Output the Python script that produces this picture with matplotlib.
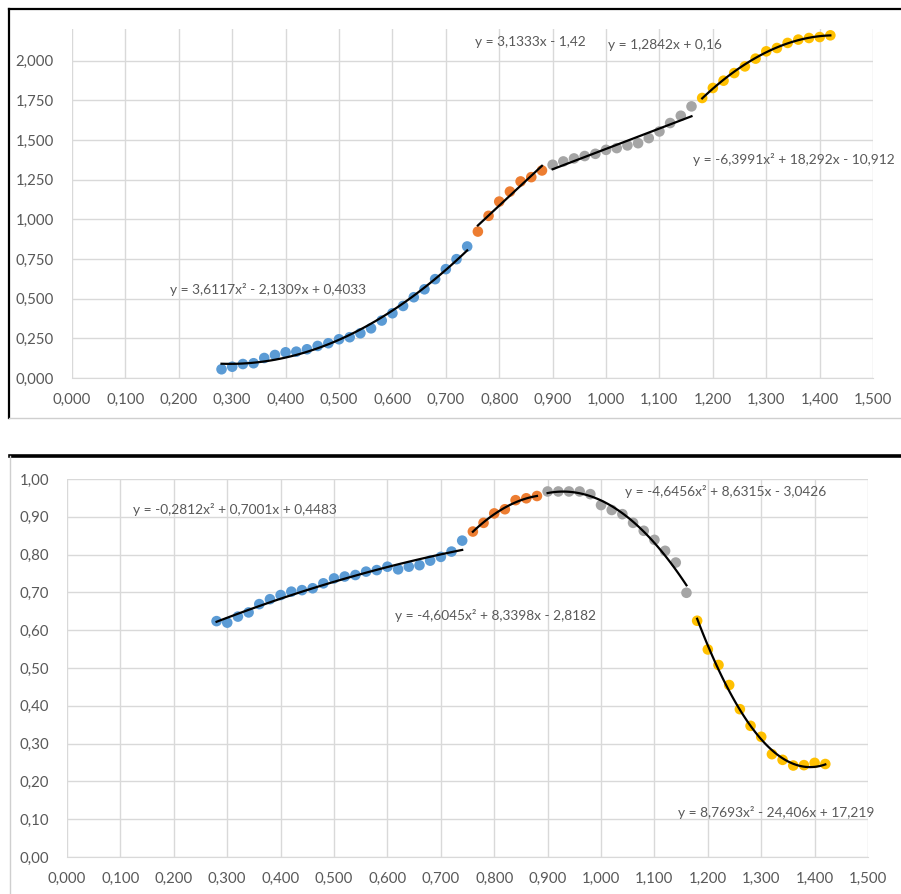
import numpy as np
import matplotlib
matplotlib.use("Agg")
import matplotlib.pyplot as plt
from matplotlib.lines import Line2D
from matplotlib.ticker import FuncFormatter

plt.rcParams['font.family'] = ['Lato', 'DejaVu Sans']

# x values per segment (same for both charts)
x_blue = [0.28, 0.30, 0.32, 0.34, 0.36, 0.38, 0.40, 0.42, 0.44, 0.46, 0.48, 0.50,
          0.52, 0.54, 0.56, 0.58, 0.60, 0.62, 0.64, 0.66, 0.68, 0.70, 0.72, 0.74]
x_orange = [0.76, 0.78, 0.80, 0.82, 0.84, 0.86, 0.88]
x_gray = [0.90, 0.92, 0.94, 0.96, 0.98, 1.00, 1.02, 1.04, 1.06, 1.08, 1.10, 1.12, 1.14, 1.16]
x_yellow = [1.18, 1.20, 1.22, 1.24, 1.26, 1.28, 1.30, 1.32, 1.34, 1.36, 1.38, 1.40, 1.42]

# top chart
top_blue = [0.055, 0.071, 0.088, 0.093, 0.126, 0.145, 0.162, 0.166, 0.181, 0.202, 0.219, 0.244,
            0.257, 0.282, 0.313, 0.362, 0.408, 0.454, 0.509, 0.559, 0.623, 0.686, 0.749, 0.829]
top_orange = [0.923, 1.022, 1.112, 1.175, 1.239, 1.266, 1.308]
top_gray = [1.344, 1.365, 1.384, 1.399, 1.413, 1.438, 1.449, 1.466, 1.480, 1.512, 1.554,
            1.607, 1.653, 1.712]
top_yellow = [1.765, 1.828, 1.874, 1.922, 1.964, 2.013, 2.059, 2.080, 2.112, 2.133, 2.143,
              2.149, 2.160]
top_coefs = [[3.6117, -2.1309, 0.4033], [3.1333, -1.42], [1.2842, 0.16],
             [-6.3991, 18.292, -10.912]]
top_labels = ["y = 3,6117x² - 2,1309x + 0,4033", "y = 3,1333x - 1,42",
              "y = 1,2842x + 0,16", "y = -6,3991x² + 18,292x - 10,912"]
top_label_pos = [(0.184, 0.555), (0.755, 2.12), (1.004, 2.10), (1.163, 1.375)]

# bottom chart
bot_blue = [0.624, 0.620, 0.636, 0.647, 0.669, 0.682, 0.693, 0.702, 0.706, 0.711, 0.724, 0.737,
            0.742, 0.746, 0.755, 0.759, 0.768, 0.761, 0.768, 0.772, 0.784, 0.794, 0.808, 0.837]
bot_orange = [0.861, 0.884, 0.909, 0.920, 0.944, 0.949, 0.955]
bot_gray = [0.967, 0.967, 0.967, 0.967, 0.960, 0.931, 0.918, 0.907, 0.884, 0.863, 0.839,
            0.810, 0.779, 0.699]
bot_yellow = [0.625, 0.549, 0.508, 0.455, 0.391, 0.347, 0.318, 0.272, 0.257, 0.242, 0.243,
              0.249, 0.246]
bot_coefs = [[-0.2812, 0.7001, 0.4483], [-4.6045, 8.3398, -2.8182],
             [-4.6456, 8.6315, -3.0426], [8.7693, -24.406, 17.219]]
bot_labels = ["y = -0,2812x² + 0,7001x + 0,4483", "y = -4,6045x² + 8,3398x - 2,8182",
              "y = -4,6456x² + 8,6315x - 3,0426", "y = 8,7693x² - 24,406x + 17,219"]
bot_label_pos = [(0.124, 0.918), (0.614, 0.640), (1.045, 0.966), (1.144, 0.119)]

colors = ['#5B9BD5', '#ED7D31', '#A5A5A5', '#FFC000']
xs = [x_blue, x_orange, x_gray, x_yellow]
txt_col = '#595959'
grid_col = '#D9D9D9'


def comma_fmt(nd):
    return FuncFormatter(lambda v, p: f"{v:.{nd}f}".replace('.', ','))


def draw(ax, ys, coefs, labels, label_pos, ymax, ystep, ynd):
    for x, y, c, k in zip(xs, ys, colors, coefs):
        ax.scatter(x, y, s=58, color=c, edgecolors='none', zorder=3)
        xx = np.linspace(x[0], x[-1], 60)
        ax.plot(xx, np.polyval(k, xx), color='black', lw=1.6, zorder=4)
    for t, (lx, ly) in zip(labels, label_pos):
        ax.text(lx, ly, t, fontsize=9.9, color=txt_col, ha='left', va='center',
                clip_on=False, zorder=5)
    ax.set_xlim(0, 1.5)
    ax.set_ylim(0, ymax)
    ax.set_xticks(np.arange(0, 1.5001, 0.1))
    ax.set_yticks(np.arange(0, ymax + 1e-6, ystep))
    ax.xaxis.set_major_formatter(comma_fmt(3))
    ax.yaxis.set_major_formatter(comma_fmt(ynd))
    ax.grid(True, color=grid_col, lw=1)
    ax.set_axisbelow(True)
    for s in ['top', 'right', 'left']:
        ax.spines[s].set_visible(False)
    ax.spines['bottom'].set_color(grid_col)
    ax.tick_params(length=0, labelsize=10.8, colors=txt_col)
    ax.tick_params(axis='x', pad=11)
    ax.tick_params(axis='y', pad=13)


fig = plt.figure(figsize=(9.01, 8.94), dpi=100)
ax1 = fig.add_axes([0.0799, 0.5772, 0.8891, 0.3904])
draw(ax1, [top_blue, top_orange, top_gray, top_yellow], top_coefs, top_labels,
     top_label_pos, 2.2, 0.25, 3)
ax1.set_yticks(np.arange(0, 2.001, 0.25))

ax2 = fig.add_axes([0.0744, 0.0414, 0.889, 0.4228])
draw(ax2, [bot_blue, bot_orange, bot_gray, bot_yellow], bot_coefs, bot_labels,
     bot_label_pos, 1.0, 0.1, 2)

# panel frames
W, H = 901, 894
def fl(x0, y0, x1, y1, c, lw):
    fig.add_artist(Line2D([x0 / W, x1 / W], [1 - y0 / H, 1 - y1 / H], color=c, lw=lw))

fl(9, 9, 901, 9, 'black', 1.6)
fl(9, 9, 9, 418, 'black', 1.6)
fl(9, 418, 901, 418, '#CFCFCF', 1)
fl(10, 456, 901, 456, 'black', 2.6)
fl(10, 456, 10, 894, '#CFCFCF', 1)

fig.savefig('out.png', dpi=100)
